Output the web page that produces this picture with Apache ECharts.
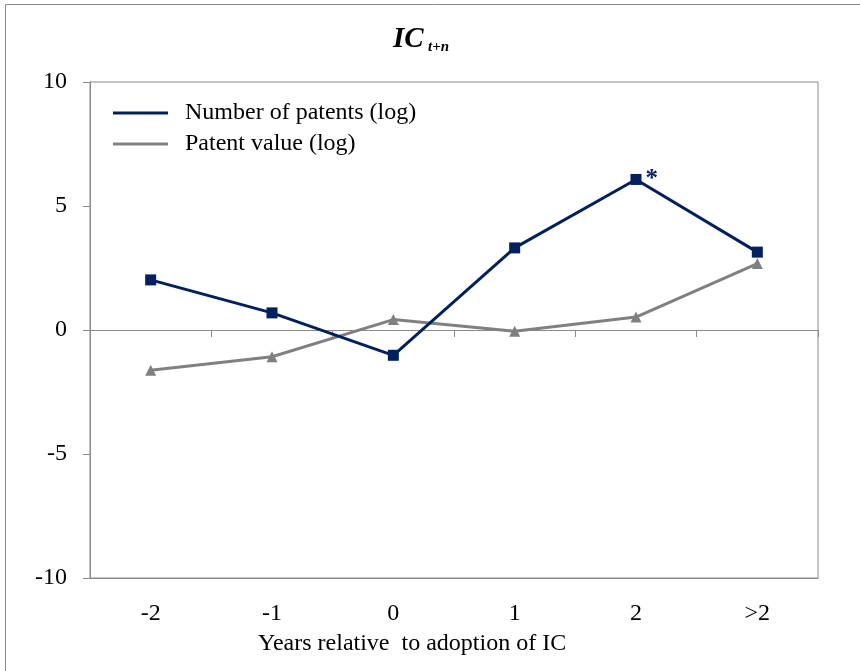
<!DOCTYPE html>
<html>
<head>
<meta charset="utf-8">
<style>
  html, body { margin: 0; padding: 0; background: #fff; }
  #chart { width: 860px; height: 671px; }
</style>
<script src="https://cdn.jsdelivr.net/npm/echarts@6/dist/echarts.min.js"></script>
</head>
<body>
<div id="chart"></div>
<script>
// Event-study estimates around the adoption of IC
var categories = ['-2', '-1', '0', '1', '2', '>2'];
var patentCount = [2.02, 0.69, -1.02, 3.31, 6.07, 3.14];
var patentValue = [-1.62, -1.08, 0.42, -0.05, 0.52, 2.68];
var seriesNames = ['Number of patents (log)', 'Patent value (log)'];
var starredIndex = 4; // significant estimate, flagged with an asterisk

var FONT = '"Liberation Serif", "Times New Roman", serif';
var AXIS_GRAY = '#8a8a8a';
var NAVY = '#002060';
var GRAY = '#808080';

var chart = echarts.init(document.getElementById('chart'));

var countData = patentCount.map(function (v, i) {
  if (i !== starredIndex) return v;
  return {
    value: v,
    label: {
      show: true, formatter: '*', position: 'right', distance: 4,
      color: NAVY, fontFamily: FONT, fontSize: 25, fontWeight: 'bold'
    }
  };
});

chart.setOption({
  animation: false,
  backgroundColor: '#fff',
  grid: {
    left: 90, right: 42, top: 82, bottom: 93,
    show: true, borderColor: AXIS_GRAY, borderWidth: 1
  },
  legend: {
    orient: 'vertical', left: 113, top: 101, padding: 0,
    icon: 'rect', itemWidth: 55, itemHeight: 3, itemGap: 7,
    textStyle: { fontFamily: FONT, fontSize: 24, lineHeight: 24, color: '#000', padding: [0, 0, 0, 12] },
    data: seriesNames
  },
  xAxis: [
    {
      type: 'category', data: categories, position: 'bottom',
      axisLine: { onZero: false, lineStyle: { color: AXIS_GRAY, width: 1 } },
      axisTick: { show: false },
      axisLabel: { fontFamily: FONT, fontSize: 24, color: '#000', margin: 24 },
      splitLine: { show: false }
    },
    {
      type: 'category', data: categories, position: 'top',
      axisLine: { onZero: true, lineStyle: { color: AXIS_GRAY, width: 1 } },
      axisTick: { show: true, inside: true, length: 7, lineStyle: { color: AXIS_GRAY } },
      axisLabel: { show: false },
      splitLine: { show: false }
    }
  ],
  yAxis: {
    type: 'value', min: -10, max: 10, interval: 5,
    axisLine: { show: true, onZero: false, lineStyle: { color: AXIS_GRAY, width: 1 } },
    axisTick: { show: true, length: 7, lineStyle: { color: AXIS_GRAY } },
    axisLabel: { fontFamily: FONT, fontSize: 24, color: '#000', margin: 23 },
    splitLine: { show: false }
  },
  series: [
    {
      name: seriesNames[0], type: 'line', data: countData,
      color: NAVY,
      lineStyle: { color: NAVY, width: 3 },
      itemStyle: { color: NAVY },
      symbol: 'rect', symbolSize: 11, showAllSymbol: true,
      z: 3
    },
    {
      name: seriesNames[1], type: 'line', data: patentValue,
      color: GRAY,
      lineStyle: { color: GRAY, width: 3 },
      itemStyle: { color: GRAY },
      symbol: 'triangle', symbolSize: 11, showAllSymbol: true,
      z: 2
    }
  ],
  graphic: [
    {
      type: 'rect', silent: true,
      shape: { x: 5.5, y: 4.5, width: 900, height: 700 },
      style: { fill: 'none', stroke: AXIS_GRAY, lineWidth: 1 }
    },
    {
      type: 'text', left: 393, top: 25,
      style: { text: 'IC', font: 'italic bold 29px ' + FONT, fill: '#000' }
    },
    {
      type: 'text', left: 428, top: 40,
      style: { text: 't+n', font: 'italic bold 15px ' + FONT, fill: '#000' }
    },
    {
      type: 'text', left: 258, top: 632,
      style: { text: 'Years relative  to adoption of IC', font: '24px ' + FONT, fill: '#000' }
    }
  ]
});
</script>
</body>
</html>
